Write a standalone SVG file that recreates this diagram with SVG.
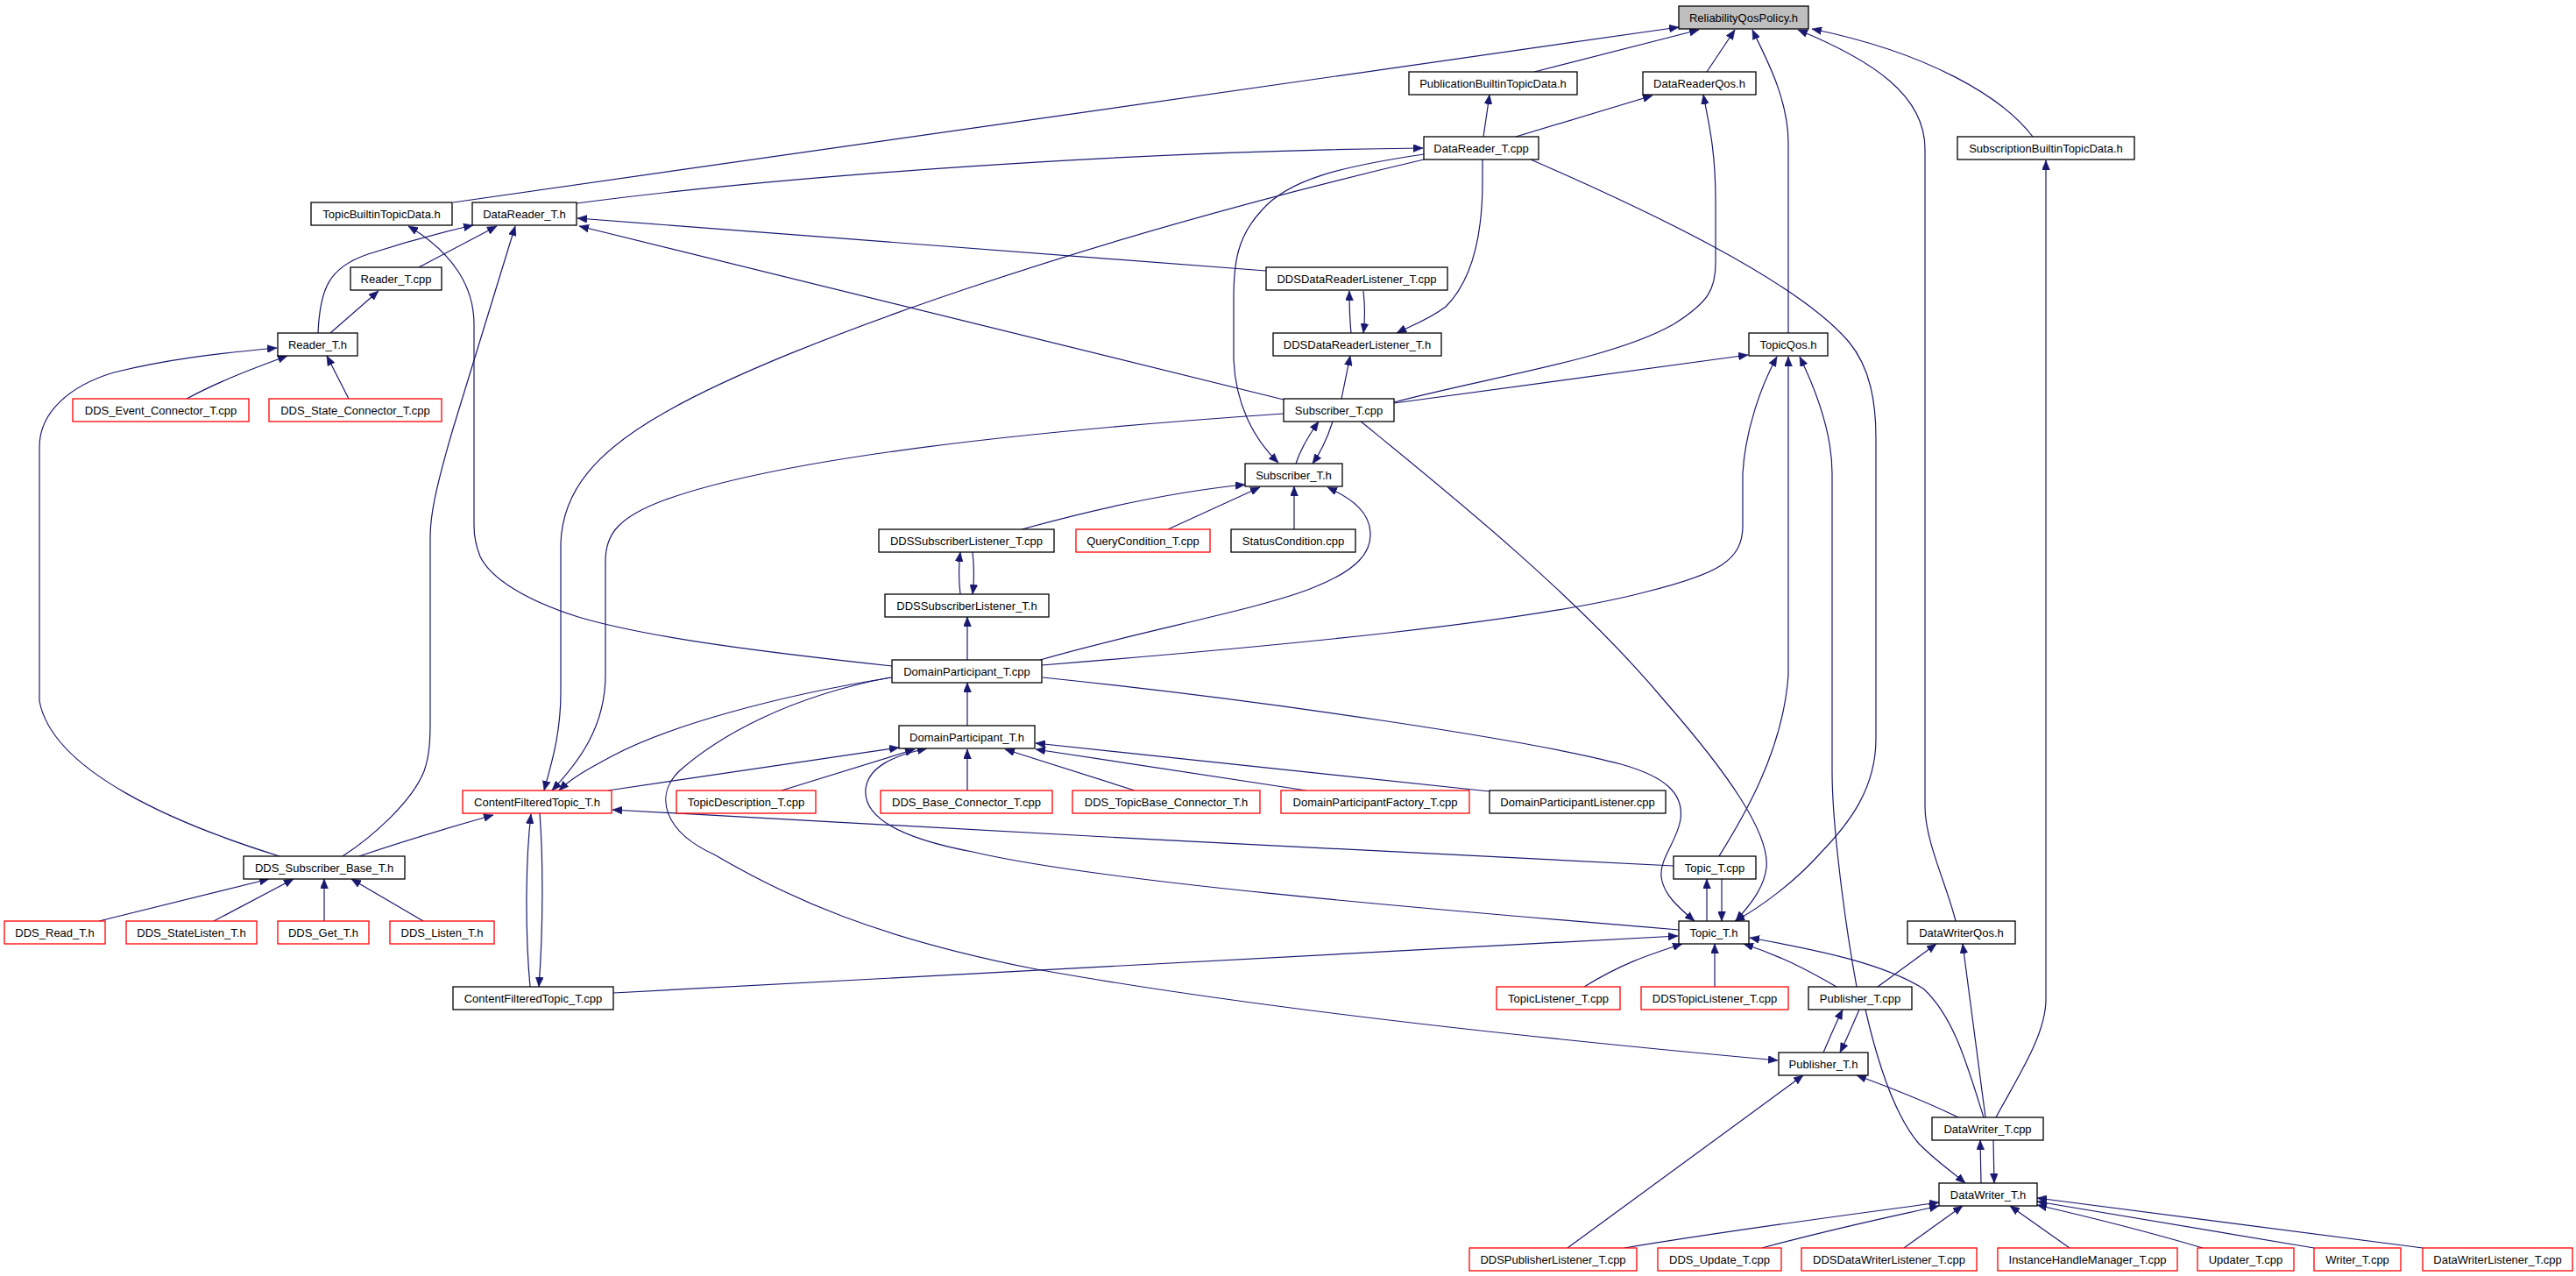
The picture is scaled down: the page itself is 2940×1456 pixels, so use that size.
<svg xmlns="http://www.w3.org/2000/svg" width="2940" height="1456" viewBox="0 0 2940 1456">
<style>
.n rect{fill:#fff;stroke:#000;stroke-width:1.3}
.n.r rect{stroke:#f00}
.n.g rect{fill:#bfbfbf}
.n text{font-family:"Liberation Sans",Arial,sans-serif;font-size:13px;text-anchor:middle;fill:#000}
#edges path{fill:none;stroke:#191970;stroke-width:1.2;marker-end:url(#a)}
</style>
<defs>
<marker id="a" viewBox="0 0 11 9" refX="11" refY="4.5" markerWidth="11" markerHeight="9" markerUnits="userSpaceOnUse" orient="auto">
<path d="M0,0 L11,4.5 L0,9 z" fill="#191970" stroke="#191970" stroke-width="0.5"/>
</marker>
</defs>
<rect width="2940" height="1456" fill="#fff"/>
<g id="edges">
<path d="M517,231 L1916,31"/>
<path d="M1751,82 L1939,34"/>
<path d="M1948,82 L1980,34"/>
<path d="M2041,380 L2041,163 C2041,110 2012,60 2000,34"/>
<path d="M2232,1051 C2222,1010 2197,960 2197,920 L2197,170 C2197,110 2140,70 2052,34"/>
<path d="M2320,156 C2285,110 2200,60 2068,33"/>
<path d="M1693,156 L1700,108"/>
<path d="M1730,156 L1886,109"/>
<path d="M1591,459 C1700,430 1840,410 1910,370 C1950,345 1958,330 1958,300 L1958,230 C1958,170 1950,140 1944,108"/>
<path d="M2278,1275 C2305,1225 2335,1180 2335,1140 L2335,183"/>
<path d="M658,232 C900,200 1300,172 1624,169"/>
<path d="M1445,309 L659,249"/>
<path d="M1465,456 L661,258"/>
<path d="M1625,176 C1530,190 1470,205 1440,240 C1412,270 1408,300 1408,340 L1408,410 C1410,460 1430,500 1459,528"/>
<path d="M1625,182 C1250,270 900,390 760,470 C680,515 642,560 640,620 L640,790 C640,840 628,875 621,902"/>
<path d="M1465,472 C1200,490 900,520 760,570 C705,590 691,610 691,640 L691,770 C691,830 660,870 630,902"/>
<path d="M1018,773 C880,795 760,830 700,862 C670,878 652,888 638,902"/>
<path d="M694,902 L1026,853"/>
<path d="M1910,988 C1600,975 1000,940 699,924"/>
<path d="M410,977 C460,960 510,945 563,930"/>
<path d="M605,1126 C599,1060 600,980 606,929"/>
<path d="M616,928 C620,980 620,1060 615,1126"/>
<path d="M319,977 C200,940 60,880 45,800 L45,510 C45,470 80,440 130,425 C190,410 250,403 316,397"/>
<path d="M391,977 C425,955 470,915 484,880 C491,860 491,840 491,820 L491,613 C491,590 496,560 518,486 L588,258"/>
<path d="M1018,760 C880,745 740,728 660,704 C600,685 560,660 548,635 C542,620 541,610 541,600 L541,370 C541,330 520,290 466,258"/>
<path d="M363,380 C365,330 375,305 420,290 C460,277 500,266 540,257"/>
<path d="M478,305 L567,258"/>
<path d="M377,380 L432,332"/>
<path d="M213,455 C250,435 290,420 328,406"/>
<path d="M398,455 L373,406"/>
<path d="M1542,380 C1540,360 1540,345 1540,332"/>
<path d="M1556,332 C1558,350 1558,365 1556,380"/>
<path d="M1692,182 L1692,207 C1692,270 1680,320 1650,350 C1630,365 1610,372 1594,380"/>
<path d="M1531,455 L1541,406"/>
<path d="M1591,460 L1995,405"/>
<path d="M1747,182 C1880,240 2050,320 2110,390 C2135,420 2141,460 2141,500 L2141,843 C2141,900 2110,940 2079,972 C2050,1005 2010,1035 1980,1051"/>
<path d="M1189,759 C1450,738 1750,710 1880,675 C1960,655 1989,640 1989,600 L1989,540 C1992,490 2010,440 2028,407"/>
<path d="M1962,977 C1985,940 2035,860 2041,770 L2041,407"/>
<path d="M2119,1126 C2105,1050 2091,940 2091,880 L2091,540 C2091,490 2070,440 2054,407"/>
<path d="M1187,753 C1300,720 1440,695 1500,670 C1550,650 1565,630 1564,608 C1563,585 1545,570 1515,556"/>
<path d="M1190,773 C1450,800 1750,845 1850,872 C1900,886 1922,905 1918,935 C1914,960 1894,980 1896,1000 C1898,1020 1915,1035 1934,1051"/>
<path d="M1552,480 C1650,560 1800,680 1900,800 C1970,880 2020,950 2016,990 C2013,1015 1995,1035 1981,1051"/>
<path d="M1479,529 C1485,510 1495,495 1505,481"/>
<path d="M1521,481 C1515,500 1508,515 1498,529"/>
<path d="M1166,604 C1260,578 1350,560 1421,553"/>
<path d="M1333,604 L1438,556"/>
<path d="M1477,604 L1477,555"/>
<path d="M1096,678 C1094,660 1094,645 1096,630"/>
<path d="M1110,630 C1112,648 1112,662 1110,678"/>
<path d="M1104,753 L1104,704"/>
<path d="M1104,828 L1104,779"/>
<path d="M892,902 L1044,855"/>
<path d="M1916,1061 C1600,1035 1250,1005 1110,972 C1020,955 985,930 988,900 C991,875 1020,862 1058,854"/>
<path d="M1104,902 L1104,855"/>
<path d="M1295,902 L1147,855"/>
<path d="M1491,902 L1182,855"/>
<path d="M1700,903 L1182,848"/>
<path d="M1948,1051 L1948,1003"/>
<path d="M1965,1003 L1965,1051"/>
<path d="M1808,1126 C1850,1100 1880,1090 1920,1077"/>
<path d="M1957,1126 L1957,1077"/>
<path d="M2096,1126 C2060,1105 2030,1090 1990,1077"/>
<path d="M2264,1275 C2245,1215 2230,1160 2195,1128 C2150,1100 2080,1085 1997,1070"/>
<path d="M700,1133 L1915,1068"/>
<path d="M1016,773 C900,795 820,840 775,880 C745,910 760,950 815,975 C900,1025 1000,1070 1183,1106 C1400,1145 1700,1180 2029,1210"/>
<path d="M2143,1126 L2210,1077"/>
<path d="M2266,1275 L2240,1077"/>
<path d="M2235,1275 C2200,1258 2160,1242 2119,1227"/>
<path d="M2081,1201 C2088,1185 2095,1168 2103,1152"/>
<path d="M2122,1152 C2115,1168 2108,1185 2100,1201"/>
<path d="M2129,1152 C2140,1200 2160,1270 2190,1305 C2210,1325 2225,1335 2243,1350"/>
<path d="M2261,1350 L2260,1301"/>
<path d="M2275,1301 L2276,1350"/>
<path d="M1789,1424 L2058,1227"/>
<path d="M1854,1424 C2000,1400 2120,1385 2213,1372"/>
<path d="M2011,1424 C2100,1400 2160,1388 2213,1376"/>
<path d="M2173,1424 C2200,1405 2220,1390 2240,1376"/>
<path d="M2362,1424 L2294,1376"/>
<path d="M2514,1424 C2450,1405 2390,1390 2325,1375"/>
<path d="M2641,1424 L2325,1371"/>
<path d="M2765,1424 L2325,1367"/>
<path d="M113,1051 L307,1003"/>
<path d="M244,1051 L335,1003"/>
<path d="M370,1051 L370,1003"/>
<path d="M483,1051 L401,1003"/>
</g>
<g id="n0" class="n g"><rect x="1916" y="7" width="148" height="26"/><text x="1990" y="25">ReliabilityQosPolicy.h</text></g>
<g id="n1" class="n"><rect x="1608" y="82" width="192" height="26"/><text x="1704" y="100">PublicationBuiltinTopicData.h</text></g>
<g id="n2" class="n"><rect x="1875" y="82" width="129" height="26"/><text x="1939.5" y="100">DataReaderQos.h</text></g>
<g id="n3" class="n"><rect x="1625" y="156" width="131" height="26"/><text x="1690.5" y="174">DataReader_T.cpp</text></g>
<g id="n4" class="n"><rect x="2234" y="156" width="202" height="26"/><text x="2335" y="174">SubscriptionBuiltinTopicData.h</text></g>
<g id="n5" class="n"><rect x="355" y="231" width="161" height="26"/><text x="435.5" y="249">TopicBuiltinTopicData.h</text></g>
<g id="n6" class="n"><rect x="539" y="231" width="119" height="26"/><text x="598.5" y="249">DataReader_T.h</text></g>
<g id="n7" class="n"><rect x="400" y="305" width="104" height="26"/><text x="452" y="323">Reader_T.cpp</text></g>
<g id="n8" class="n"><rect x="1445" y="305" width="207" height="26"/><text x="1548.5" y="323">DDSDataReaderListener_T.cpp</text></g>
<g id="n9" class="n"><rect x="317" y="380" width="91" height="26"/><text x="362.5" y="398">Reader_T.h</text></g>
<g id="n10" class="n"><rect x="1453" y="380" width="192" height="26"/><text x="1549" y="398">DDSDataReaderListener_T.h</text></g>
<g id="n11" class="n"><rect x="1996" y="380" width="90" height="26"/><text x="2041" y="398">TopicQos.h</text></g>
<g id="n12" class="n r"><rect x="83" y="455" width="201" height="26"/><text x="183.5" y="473">DDS_Event_Connector_T.cpp</text></g>
<g id="n13" class="n r"><rect x="307" y="455" width="197" height="26"/><text x="405.5" y="473">DDS_State_Connector_T.cpp</text></g>
<g id="n14" class="n"><rect x="1465" y="455" width="126" height="26"/><text x="1528" y="473">Subscriber_T.cpp</text></g>
<g id="n15" class="n"><rect x="1421" y="529" width="111" height="26"/><text x="1476.5" y="547">Subscriber_T.h</text></g>
<g id="n16" class="n"><rect x="1003" y="604" width="200" height="26"/><text x="1103" y="622">DDSSubscriberListener_T.cpp</text></g>
<g id="n17" class="n r"><rect x="1228" y="604" width="153" height="26"/><text x="1304.5" y="622">QueryCondition_T.cpp</text></g>
<g id="n18" class="n"><rect x="1405" y="604" width="142" height="26"/><text x="1476" y="622">StatusCondition.cpp</text></g>
<g id="n19" class="n"><rect x="1010" y="678" width="187" height="26"/><text x="1103.5" y="696">DDSSubscriberListener_T.h</text></g>
<g id="n20" class="n"><rect x="1018" y="753" width="171" height="26"/><text x="1103.5" y="771">DomainParticipant_T.cpp</text></g>
<g id="n21" class="n"><rect x="1026" y="828" width="155" height="26"/><text x="1103.5" y="846">DomainParticipant_T.h</text></g>
<g id="n22" class="n r"><rect x="528" y="902" width="170" height="26"/><text x="613" y="920">ContentFilteredTopic_T.h</text></g>
<g id="n23" class="n r"><rect x="772" y="902" width="159" height="26"/><text x="851.5" y="920">TopicDescription_T.cpp</text></g>
<g id="n24" class="n r"><rect x="1005" y="902" width="196" height="26"/><text x="1103" y="920">DDS_Base_Connector_T.cpp</text></g>
<g id="n25" class="n r"><rect x="1224" y="902" width="214" height="26"/><text x="1331" y="920">DDS_TopicBase_Connector_T.h</text></g>
<g id="n26" class="n r"><rect x="1462" y="902" width="215" height="26"/><text x="1569.5" y="920">DomainParticipantFactory_T.cpp</text></g>
<g id="n27" class="n"><rect x="1700" y="902" width="201" height="26"/><text x="1800.5" y="920">DomainParticipantListener.cpp</text></g>
<g id="n28" class="n"><rect x="278" y="977" width="184" height="26"/><text x="370" y="995">DDS_Subscriber_Base_T.h</text></g>
<g id="n29" class="n"><rect x="1910" y="977" width="94" height="26"/><text x="1957" y="995">Topic_T.cpp</text></g>
<g id="n30" class="n r"><rect x="5" y="1051" width="115" height="26"/><text x="62.5" y="1069">DDS_Read_T.h</text></g>
<g id="n31" class="n r"><rect x="144" y="1051" width="149" height="26"/><text x="218.5" y="1069">DDS_StateListen_T.h</text></g>
<g id="n32" class="n r"><rect x="317" y="1051" width="104" height="26"/><text x="369" y="1069">DDS_Get_T.h</text></g>
<g id="n33" class="n r"><rect x="445" y="1051" width="119" height="26"/><text x="504.5" y="1069">DDS_Listen_T.h</text></g>
<g id="n34" class="n"><rect x="1916" y="1051" width="80" height="26"/><text x="1956" y="1069">Topic_T.h</text></g>
<g id="n35" class="n"><rect x="2177" y="1051" width="123" height="26"/><text x="2238.5" y="1069">DataWriterQos.h</text></g>
<g id="n36" class="n"><rect x="517" y="1126" width="183" height="26"/><text x="608.5" y="1144">ContentFilteredTopic_T.cpp</text></g>
<g id="n37" class="n r"><rect x="1708" y="1126" width="141" height="26"/><text x="1778.5" y="1144">TopicListener_T.cpp</text></g>
<g id="n38" class="n r"><rect x="1873" y="1126" width="168" height="26"/><text x="1957" y="1144">DDSTopicListener_T.cpp</text></g>
<g id="n39" class="n"><rect x="2064" y="1126" width="118" height="26"/><text x="2123" y="1144">Publisher_T.cpp</text></g>
<g id="n40" class="n"><rect x="2030" y="1201" width="102" height="26"/><text x="2081" y="1219">Publisher_T.h</text></g>
<g id="n41" class="n"><rect x="2205" y="1275" width="127" height="26"/><text x="2268.5" y="1293">DataWriter_T.cpp</text></g>
<g id="n42" class="n"><rect x="2213" y="1350" width="112" height="26"/><text x="2269" y="1368">DataWriter_T.h</text></g>
<g id="n43" class="n r"><rect x="1677" y="1424" width="191" height="26"/><text x="1772.5" y="1442">DDSPublisherListener_T.cpp</text></g>
<g id="n44" class="n r"><rect x="1892" y="1424" width="141" height="26"/><text x="1962.5" y="1442">DDS_Update_T.cpp</text></g>
<g id="n45" class="n r"><rect x="2056" y="1424" width="200" height="26"/><text x="2156" y="1442">DDSDataWriterListener_T.cpp</text></g>
<g id="n46" class="n r"><rect x="2280" y="1424" width="205" height="26"/><text x="2382.5" y="1442">InstanceHandleManager_T.cpp</text></g>
<g id="n47" class="n r"><rect x="2508" y="1424" width="110" height="26"/><text x="2563" y="1442">Updater_T.cpp</text></g>
<g id="n48" class="n r"><rect x="2641" y="1424" width="99" height="26"/><text x="2690.5" y="1442">Writer_T.cpp</text></g>
<g id="n49" class="n r"><rect x="2765" y="1424" width="171" height="26"/><text x="2850.5" y="1442">DataWriterListener_T.cpp</text></g>
</svg>
